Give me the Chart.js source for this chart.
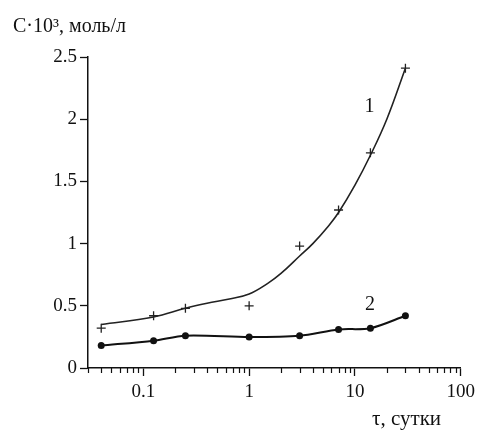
<!DOCTYPE html>
<html>
<head>
<meta charset="utf-8">
<script src="https://cdn.jsdelivr.net/npm/chart.js@4/dist/chart.umd.min.js"></script>
<style>
  html, body { margin: 0; padding: 0; background: #fff; }
  #wrap { width: 480px; height: 435px; position: relative; }
</style>
</head>
<body>
<div id="wrap"><canvas id="c" width="480" height="435"></canvas></div>
<script>
// ---- data ----
const days = [0.04, 0.125, 0.25, 1, 3, 7, 14, 30];
const conc1 = [0.32, 0.42, 0.48, 0.50, 0.98, 1.27, 1.73, 2.41];
const conc2 = [0.18, 0.22, 0.26, 0.25, 0.26, 0.31, 0.32, 0.42];
// smooth fitted curve for series 1
const curve1Days = [0.04, 0.125, 0.25, 0.4, 0.65, 1, 1.5, 2, 3, 4, 5.6, 7, 10, 14, 20, 30];
const curve1Conc = [0.35, 0.41, 0.48, 0.52, 0.555, 0.595, 0.68, 0.76, 0.90, 1.00, 1.14, 1.25, 1.47, 1.71, 2.00, 2.41];
// curve labels
const curveLabels = ['1', '2'];
const curveLabelDays = [13.7, 13.9];
const curveLabelConc = [2.10, 0.51];
// axis ticks
const yTickValues = [0, 0.5, 1, 1.5, 2, 2.5];
const xMajorValues = [0.1, 1, 10, 100];
const yTitle = 'С·10³, моль/л';
const xTitle = 'τ, сутки';

const FONT = '"Liberation Serif", "Times New Roman", serif';

function pts(xs, ys) { return xs.map((x, i) => ({ x: x, y: ys[i] })); }
function isMajor(v) { return xMajorValues.some(m => Math.abs(m - v) / m < 1e-9); }

// tick values for the log axis (mantissas 1..9 per decade)
const xTickValues = [];
for (let e = -2; e <= 2; e++) {
  for (let m = 1; m <= 9; m++) {
    const v = +(m * Math.pow(10, e)).toPrecision(6);
    if (v >= 0.03 && v <= 100) xTickValues.push(v);
  }
}

const extras = {
  id: 'extras',
  afterDraw(chart) {
    const ctx = chart.ctx;
    const xs = chart.scales.x, ys = chart.scales.y;
    ctx.save();
    // minor ticks on x axis
    ctx.strokeStyle = '#111';
    ctx.lineWidth = 1.2;
    xs.ticks.forEach(t => {
      if (isMajor(t.value)) return;
      const px = Math.round(xs.getPixelForValue(t.value)) + 0.5;
      ctx.beginPath();
      ctx.moveTo(px, chart.chartArea.bottom);
      ctx.lineTo(px, chart.chartArea.bottom + 5);
      ctx.stroke();
    });
    // curve labels
    ctx.fillStyle = '#111';
    ctx.font = '20px ' + FONT;
    ctx.textAlign = 'center';
    ctx.textBaseline = 'middle';
    curveLabels.forEach((s, i) => {
      ctx.fillText(s, xs.getPixelForValue(curveLabelDays[i]), ys.getPixelForValue(curveLabelConc[i]));
    });
    // axis titles
    ctx.font = '20px ' + FONT;
    ctx.textAlign = 'left';
    ctx.textBaseline = 'alphabetic';
    ctx.fillText(yTitle, 13, 32);
    ctx.font = '21px ' + FONT;
    ctx.fillText(xTitle, 372, 425);
    ctx.restore();
  }
};

new Chart(document.getElementById('c'), {
  type: 'scatter',
  data: {
    datasets: [
      {
        data: pts(curve1Days, curve1Conc),
        showLine: true,
        borderColor: '#222',
        borderWidth: 1.6,
        pointRadius: 0,
        tension: 0.4
      },
      {
        data: pts(days, conc1),
        showLine: false,
        pointStyle: 'cross',
        pointRadius: 4.5,
        borderColor: '#222',
        borderWidth: 1.3
      },
      {
        data: pts(days, conc2),
        showLine: true,
        borderColor: '#111',
        borderWidth: 2,
        tension: 0.3,
        pointStyle: 'circle',
        pointRadius: 3.5,
        backgroundColor: '#111',
        pointBorderColor: '#111',
        pointBorderWidth: 0
      }
    ]
  },
  options: {
    responsive: false,
    animation: false,
    layout: { padding: { top: 57, right: 17, bottom: 0, left: 0 } },
    plugins: { legend: { display: false }, tooltip: { enabled: false } },
    scales: {
      x: {
        type: 'logarithmic',
        min: 0.03,
        max: 100,
        afterBuildTicks: s => { s.ticks = xTickValues.map(v => ({ value: v, major: isMajor(v) })); },
        afterFit: s => { s.height = 67; },
        border: { display: true, color: '#111', width: 1.5 },
        grid: {
          display: true,
          drawOnChartArea: false,
          drawTicks: true,
          tickLength: 8,
          tickWidth: 1.3,
          tickColor: c => (c.tick && isMajor(c.tick.value)) ? '#111' : 'rgba(0,0,0,0)'
        },
        ticks: {
          autoSkip: false,
          maxRotation: 0,
          minRotation: 0,
          padding: 5,
          color: '#111',
          font: { family: FONT, size: 19 },
          callback: v => isMajor(v) ? String(v) : ''
        }
      },
      y: {
        min: 0,
        max: 2.5,
        afterBuildTicks: s => { s.ticks = yTickValues.map(v => ({ value: v })); },
        afterFit: s => { s.width = 88; },
        border: { display: true, color: '#111', width: 1.5 },
        grid: {
          display: true,
          drawOnChartArea: false,
          drawTicks: true,
          tickLength: 8,
          tickWidth: 1.3,
          tickColor: '#111'
        },
        ticks: {
          padding: 3,
          color: '#111',
          font: { family: FONT, size: 19 },
          callback: v => String(v)
        }
      }
    }
  },
  plugins: [extras]
});
</script>
</body>
</html>
